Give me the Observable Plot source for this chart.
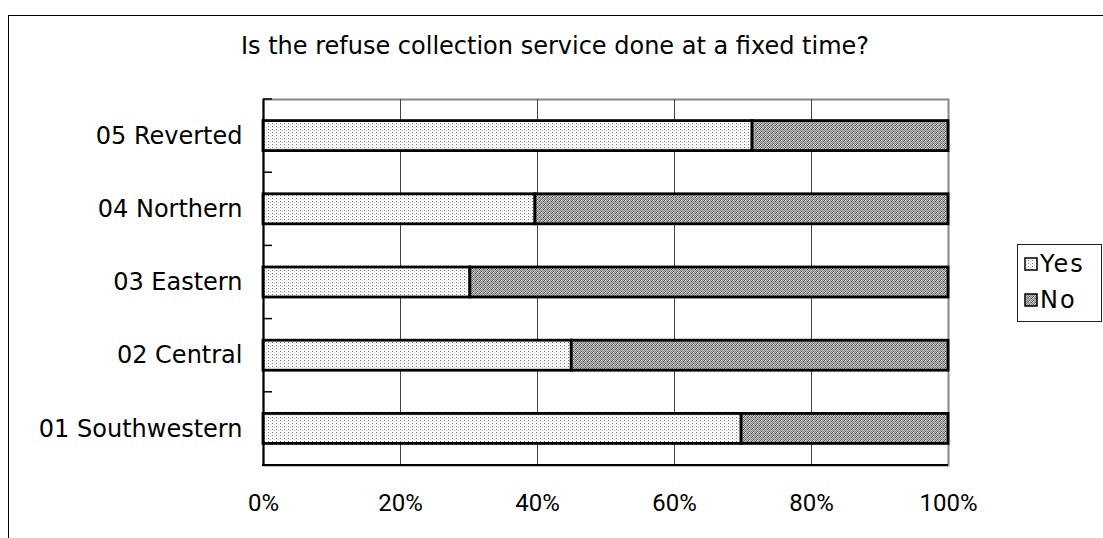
<!DOCTYPE html>
<html>
<head>
<meta charset="utf-8">
<script src="https://cdn.jsdelivr.net/npm/d3@7"></script>
<script src="https://cdn.jsdelivr.net/npm/@observablehq/plot@0.6"></script>
<style>
  html, body { margin: 0; padding: 0; background: #fff; overflow: hidden; width: 1103px; height: 538px; }
  body { position: relative; font-family: "DejaVu Sans", sans-serif; color: #000; }
  #frame { position: absolute; left: 8px; top: 15px; width: 1200px; height: 600px; border: 1.5px solid #000; box-sizing: border-box; }
  #chart { position: absolute; left: 0; top: 0; }
  #title { position: absolute; left: 55px; width: 1000px; top: 31px; text-align: center; font-size: 24px; line-height: 30px; white-space: nowrap; }
  #legend { position: absolute; left: 1017px; top: 244px; width: 85px; height: 78px; border: 1px solid #222; box-sizing: border-box; background: #fff; padding: 1px 0 0 6px; }
  .item { display: flex; align-items: center; height: 36px; font-size: 24px; letter-spacing: 2px; }
  .item svg { margin-right: 1px; }
</style>
</head>
<body>
<div id="frame"></div>
<div id="chart"></div>
<div id="title"></div>
<div id="legend"></div>
<script>
// Survey results by district
const titleText = "Is the refuse collection service done at a fixed time?";
const regions = ["01 Southwestern", "02 Central", "03 Eastern", "04 Northern", "05 Reverted"];
const yesPct = [69.8, 45.0, 30.2, 39.7, 71.4];
const noPct = [30.2, 55.0, 69.8, 60.3, 28.6];
const answers = ["Yes", "No"];
const xTicks = [0, 20, 40, 60, 80, 100];

const rows = regions.flatMap((r, i) => [
  {region: r, answer: answers[0], pct: yesPct[i]},
  {region: r, answer: answers[1], pct: noPct[i]}
]);

const chart = Plot.plot({
  width: 1103,
  height: 538,
  marginLeft: 263,
  marginRight: 155,
  marginTop: 99,
  marginBottom: 73,
  style: {fontFamily: '"DejaVu Sans", sans-serif', fontSize: "24px", color: "#000", background: "transparent", overflow: "visible"},
  x: {domain: [0, 100], label: null},
  y: {domain: regions.slice().reverse(), paddingInner: 0.59, paddingOuter: 0.295, round: false, label: null},
  color: {domain: answers, range: ["url(#pat-yes)", "url(#pat-no)"]},
  marks: [
    Plot.frame({stroke: "#888", strokeWidth: 2}),
    Plot.gridX(xTicks.slice(1, -1), {stroke: "#444", strokeOpacity: 1, strokeWidth: 1}),
    Plot.barX(rows, Plot.stackX({y: "region", x: "pct", fill: "answer", stroke: "#000", strokeWidth: 2.8})),
    Plot.ruleX([0], {stroke: "#000", strokeWidth: 2}),
    Plot.axisX(xTicks, {tickSize: 0, tickPadding: 28, tickFormat: d => d + "%", fill: "#000",
      fontFamily: "Roboto, sans-serif", fontSize: 24}),
    Plot.axisY({tickSize: 0, tickPadding: 21, fill: "#000", fontSize: 24})
  ]
});

// Fill patterns for the two answers
const svg = d3.select(chart);
const defs = svg.insert("defs", ":first-child");
const py = defs.append("pattern").attr("id", "pat-yes").attr("patternUnits", "userSpaceOnUse")
  .attr("width", 4).attr("height", 3);
py.append("rect").attr("width", 4).attr("height", 3).attr("fill", "#fff");
py.append("rect").attr("x", 0).attr("y", 0).attr("width", 1).attr("height", 1).attr("fill", "#777");
py.append("rect").attr("x", 2).attr("y", 1).attr("width", 1).attr("height", 1).attr("fill", "#ccc");
const pn = defs.append("pattern").attr("id", "pat-no").attr("patternUnits", "userSpaceOnUse")
  .attr("width", 4).attr("height", 4);
pn.append("rect").attr("width", 4).attr("height", 4).attr("fill", "#c0c0c0");
[[0,0],[2,0],[1,1],[3,1],[0,2],[2,2],[1,3],[3,3]].forEach(([x, y], k) => {
  pn.append("rect").attr("x", x).attr("y", y).attr("width", 1).attr("height", 1)
    .attr("fill", k % 3 === 0 ? "#555" : "#858585");
});
pn.append("rect").attr("x", 1).attr("y", 0).attr("width", 1).attr("height", 1).attr("fill", "#eee");

// Bottom axis line and band-boundary ticks on the category axis
const xs = chart.scale("x");
const ys = chart.scale("y");
const x0 = xs.apply(0), x100 = xs.apply(100);
const gap = (ys.step - ys.bandwidth) / 2;
const dom = ys.domain;
const bounds = dom.map(d => ys.apply(d) - gap);
bounds.push(ys.apply(dom[dom.length - 1]) + ys.bandwidth + gap);
const g = svg.append("g");
g.append("line").attr("x1", x0 - 1).attr("x2", x100).attr("y1", bounds[bounds.length - 1]).attr("y2", bounds[bounds.length - 1])
  .attr("stroke", "#000").attr("stroke-width", 2);
g.selectAll("line.tk").data(bounds).join("line").attr("class", "tk")
  .attr("x1", x0).attr("x2", x0 + 9).attr("y1", d => d).attr("y2", d => d)
  .attr("stroke", "#000").attr("stroke-width", 1.5);

document.getElementById("chart").append(chart);
document.getElementById("title").textContent = titleText;

// Legend
const legend = d3.select("#legend");
answers.forEach(a => {
  const it = legend.append("div").attr("class", "item");
  const s = it.append("svg").attr("width", 15).attr("height", 15);
  s.append("rect").attr("x", 1).attr("y", 1).attr("width", 12).attr("height", 12)
    .attr("fill", chart.scale("color").apply(a)).attr("stroke", "#000").attr("stroke-width", 1.5);
  it.append("span").text(a);
});
</script>
</body>
</html>
